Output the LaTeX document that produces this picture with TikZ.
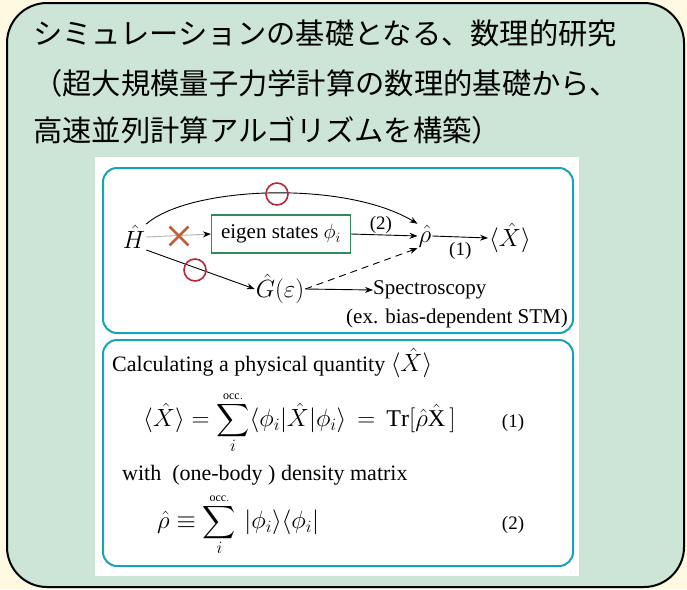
\documentclass[tikz,border=0pt]{standalone}
\usepackage{fontspec}
\setmainfont{Liberation Serif}
\newfontfamily\jpfont{Noto Sans CJK JP}
\usetikzlibrary{arrows.meta,shapes.misc}
\definecolor{bgcream}{HTML}{FFF9E1}
\definecolor{panelgreen}{HTML}{CCE5D6}
\definecolor{tealline}{HTML}{17A2B8}
\definecolor{eigengreen}{HTML}{2E8B5A}
\definecolor{circred}{HTML}{B8283C}
\definecolor{crossbrown}{HTML}{C0603A}
\newcommand{\occsum}{\mathop{\vcenter{\hbox{\scalebox{2.3}{$\displaystyle\sum$}}}}\limits}
\newcommand{\occlab}{{\scriptscriptstyle\mathrm{occ.}}}
\tikzset{
  jptext/.style={anchor=west, inner sep=0pt, font=\jpfont\fontsize{29.3}{29}\selectfont},
  dtext/.style={inner sep=1pt, font=\fontsize{21}{25}\selectfont},
  dmath/.style={inner sep=1pt, font=\fontsize{23}{27}\selectfont},
  btext/.style={inner sep=0pt, anchor=west, font=\fontsize{22}{26}\selectfont},
  bmath/.style={inner sep=0pt, anchor=west, font=\fontsize{24}{28}\selectfont},
  numlab/.style={inner sep=1pt, font=\fontsize{19}{22}\selectfont},
  arr/.style={-{Stealth[length=8pt,width=6pt]}, line width=0.9pt},
  okcirc/.style={draw=circred, line width=1.6pt, circle, minimum size=22pt, inner sep=0pt},
  tealbox/.style={draw=tealline, line width=2pt, rounded corners=14pt},
}
\begin{document}
\begin{tikzpicture}[x=1pt,y=-1pt]
\useasboundingbox (0,0) rectangle (687,589);
\fill[bgcream] (0,0) rectangle (687,589);
\draw[line width=2pt, fill=panelgreen, rounded corners=40pt] (7,3) rectangle (684,587);
% title
\node[jptext] (t1) at (33,33) {シミュレーションの基礎となる、数理的研究};
\node[jptext] (t2) at (33,83) {（超大規模量子力学計算の数理的基礎から、};
\node[jptext] (t3) at (33,130) {高速並列計算アルゴリズムを構築）};
% white area
\fill[white] (95,157) rectangle (579,576);
\draw[tealbox] (103,168) rectangle (573,333);
\draw[tealbox] (103,340) rectangle (573,566);
% diagram
\node[dmath] (H) at (134,237) {$\hat H$};
\node[dtext, draw=eigengreen, line width=1.2pt, minimum width=139pt, minimum height=38pt] (eig) at (281,234) {eigen states $\phi_i$};
\node[dmath] (rho) at (425,236) {$\hat\rho$};
\node[dmath] (X) at (510,238) {$\langle\hat X\rangle$};
\node[dmath] (G) at (280,289) {$\hat G(\varepsilon)$};
\node[dtext, anchor=west, inner sep=0pt] (spec) at (373,290) {Spectroscopy};
\node[dtext, anchor=east, inner sep=0pt] (stm) at (568,318) {(ex. bias-dependent STM)};
\draw[gray!60, line width=0.9pt, -{Stealth[length=8pt,width=6pt,black]}] (H.east) -- (eig.west);
\node[cross out, draw=crossbrown, line width=2.8pt, minimum size=16pt, inner sep=0pt] (nomark) at (179,236) {};
\draw[arr] (eig.east) -- node[above, numlab, pos=0.45] (lab2) {(2)} (rho.west);
\draw[arr] (rho.east) -- node[below, numlab, yshift=-4pt] (lab1) {(1)} (X.west);
\draw[arr] (H.north east) .. controls (190,186) and (345,180) .. (rho.north west);
\node[okcirc] (ok1) at (277,194) {};
\draw[arr] (H.south east) -- (G.west);
\node[okcirc] (ok2) at (195,270) {};
\draw[arr, dash pattern=on 7pt off 5pt] (G.east) -- (rho.south west);
\draw[arr] (G.east) -- (spec.west);
% box 2
\node[btext] (calc) at (112,363) {Calculating a physical quantity {\fontsize{24}{28}\selectfont$\langle\hat X\rangle$}};
\node[bmath] (eq1) at (143,423) {$\langle\hat X\rangle = \occsum_{i}^{\occlab}\langle\phi_i|\hat X|\phi_i\rangle \,=\, \mathrm{Tr}[\hat\rho\hat{\mathrm{X}}\,]$};
\node[numlab] (n1) at (513,423) {(1)};
\node[btext] (with) at (122,475) {with\ \ (one-body ) density matrix};
\node[bmath] (eq2) at (157,525) {$\hat\rho \equiv \occsum_{i}^{\occlab}\,|\phi_i\rangle\langle\phi_i|$};
\node[numlab] (n2) at (513,525) {(2)};
\end{tikzpicture}
\end{document}
